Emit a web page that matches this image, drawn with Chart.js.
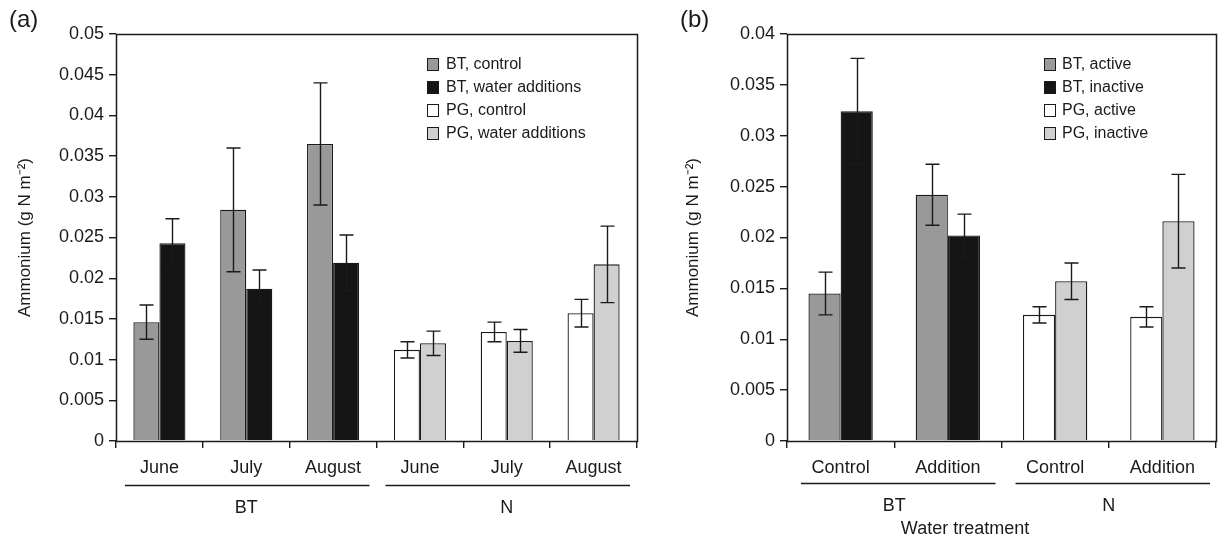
<!DOCTYPE html>
<html><head><meta charset="utf-8">
<script src="https://cdn.jsdelivr.net/npm/chart.js@4/dist/chart.umd.min.js"></script>
<style>
html,body{margin:0;padding:0;background:#fff;}
#wrap{position:relative;width:1219px;height:542px;overflow:hidden;}
#ca{position:absolute;left:0;top:0;}
#cb{position:absolute;left:640px;top:0;}
</style></head><body>
<div id="wrap">
<canvas id="ca" width="640" height="542"></canvas>
<canvas id="cb" width="579" height="542"></canvas>
</div>
<script>
// ---------- Panel (a) data ----------
const monthsA = ['June', 'July', 'August', 'June', 'July', 'August'];
const groupsA = ['BT', 'N'];
const btControl = [0.0146, 0.0284, 0.0365];
const btControlErr = [0.0021, 0.0076, 0.0075];
const btWater = [0.0243, 0.0187, 0.0219];
const btWaterErr = [0.0030, 0.0023, 0.0034];
const pgControl = [0.0112, 0.0134, 0.0157];
const pgControlErr = [0.0010, 0.0012, 0.0017];
const pgWater = [0.0120, 0.0123, 0.0217];
const pgWaterErr = [0.0015, 0.0014, 0.0047];
const legendA = ['BT, control', 'BT, water additions', 'PG, control', 'PG, water additions'];
const yTicksA = [0, 0.005, 0.01, 0.015, 0.02, 0.025, 0.03, 0.035, 0.04, 0.045, 0.05];

// ---------- Panel (b) data ----------
const treatB = ['Control', 'Addition', 'Control', 'Addition'];
const groupsB = ['BT', 'N'];
const btActive = [0.0145, 0.0242];
const btActiveErr = [0.0021, 0.0030];
const btInactive = [0.0324, 0.0202];
const btInactiveErr = [0.0052, 0.0021];
const pgActive = [0.0124, 0.0122];
const pgActiveErr = [0.0008, 0.0010];
const pgInactive = [0.0157, 0.0216];
const pgInactiveErr = [0.0018, 0.0046];
const legendB = ['BT, active', 'BT, inactive', 'PG, active', 'PG, inactive'];
const yTicksB = [0, 0.005, 0.01, 0.015, 0.02, 0.025, 0.03, 0.035, 0.04];

const C_GRAY = '#999999', C_BLACK = '#151515', C_WHITE = '#ffffff', C_LIGHT = '#d0d0d0';
const INK = '#1a1a1a';
const FONT = '"Liberation Sans", Arial, Helvetica, sans-serif';
const legendColors = [C_GRAY, C_BLACK, C_WHITE, C_LIGHT];

function rep(c, n) { return Array(n).fill(c); }

function makeChart(canvas, cfg) {
  const overlay = {
    id: 'overlay',
    afterDatasetsDraw(chart) {
      const ctx = chart.ctx, y = chart.scales.y;
      ctx.save();
      ctx.strokeStyle = INK; ctx.lineWidth = 1.4;
      chart.data.datasets.forEach((ds, di) => {
        const meta = chart.getDatasetMeta(di);
        meta.data.forEach((el, i) => {
          const v = ds.data[i], e = ds.err[i];
          const x = Math.round(el.x) + 0.5;
          const yt = y.getPixelForValue(v + e), yb = y.getPixelForValue(v - e);
          ctx.beginPath();
          ctx.moveTo(x, yt); ctx.lineTo(x, yb);
          ctx.moveTo(x - cfg.cap, yt); ctx.lineTo(x + cfg.cap, yt);
          ctx.moveTo(x - cfg.cap, yb); ctx.lineTo(x + cfg.cap, yb);
          ctx.stroke();
        });
      });
      ctx.restore();
    },
    afterDraw(chart) {
      const ctx = chart.ctx, a = chart.chartArea, xs = chart.scales.x;
      ctx.save();
      // plot frame
      ctx.strokeStyle = INK; ctx.lineWidth = 1.5;
      ctx.strokeRect(Math.round(a.left) + 0.5, Math.round(a.top) + 0.5, Math.round(a.right - a.left), Math.round(a.bottom - a.top));
      // group lines and labels
      const n = cfg.labels.length, half = n / 2;
      const cw = (a.right - a.left) / n;
      ctx.fillStyle = INK;
      ctx.font = '18px ' + FONT;
      ctx.textAlign = 'center'; ctx.textBaseline = 'middle';
      cfg.groups.forEach((g, gi) => {
        const x0 = xs.getPixelForValue(gi * half) - cw / 2 + cfg.insetL;
        const x1 = xs.getPixelForValue(gi * half + half - 1) + cw / 2 - cfg.insetR;
        ctx.lineWidth = 1.5;
        ctx.beginPath(); ctx.moveTo(x0, cfg.lineY + 0.5); ctx.lineTo(x1, cfg.lineY + 0.5); ctx.stroke();
        ctx.fillText(g, (xs.getPixelForValue(gi * half) + xs.getPixelForValue(gi * half + half - 1)) / 2, cfg.groupY);
      });
      if (cfg.xTitle) ctx.fillText(cfg.xTitle, cfg.xTitleX, cfg.xTitleY);
      // panel letter
      ctx.font = '24px ' + FONT;
      ctx.textAlign = 'left';
      ctx.fillText(cfg.letter, cfg.letterX, 20);
      // y title
      ctx.save();
      ctx.translate(cfg.yTitleX, (a.top + a.bottom) / 2);
      ctx.rotate(-Math.PI / 2);
      ctx.textAlign = 'center';
      ctx.font = '17px ' + FONT;
      ctx.fillText('Ammonium (g N m\u207B\u00B2)', 0, 0);
      ctx.restore();
      // legend
      ctx.font = '16px ' + FONT;
      ctx.textAlign = 'left';
      cfg.legend.forEach((t, i) => {
        const yy = cfg.legY + i * 23;
        ctx.fillStyle = legendColors[i];
        ctx.fillRect(cfg.legX, yy - 6, 11, 12);
        ctx.strokeStyle = INK; ctx.lineWidth = 1;
        ctx.strokeRect(cfg.legX + 0.5, yy - 5.5, 11, 12);
        ctx.fillStyle = INK;
        ctx.fillText(t, cfg.legX + cfg.legGap, yy + 1);
      });
      ctx.restore();
    }
  };

  return new Chart(canvas, {
    type: 'bar',
    data: {
      labels: cfg.labels,
      datasets: [
        { data: cfg.left, err: cfg.leftErr, backgroundColor: cfg.leftColors, borderColor: INK, borderWidth: 1.3, borderSkipped: 'bottom', barPercentage: 1, categoryPercentage: 0.6 },
        { data: cfg.right, err: cfg.rightErr, backgroundColor: cfg.rightColors, borderColor: INK, borderWidth: 1.3, borderSkipped: 'bottom', barPercentage: 1, categoryPercentage: 0.6 }
      ]
    },
    options: {
      responsive: false, animation: false,
      layout: { padding: { left: 0, top: 34, right: cfg.padRight, bottom: 0 } },
      plugins: { legend: { display: false }, tooltip: { enabled: false } },
      scales: {
        x: {
          grid: { offset: true, drawOnChartArea: false, drawTicks: true, tickLength: 7, color: INK, lineWidth: 1.4 },
          border: { display: false },
          ticks: { color: INK, font: { family: FONT, size: 18 }, padding: 9, maxRotation: 0, autoSkip: false },
          afterFit(s) { s.height = 542 - 441; }
        },
        y: {
          min: cfg.yTicks[0], max: cfg.yTicks[cfg.yTicks.length - 1],
          afterBuildTicks(s) { s.ticks = cfg.yTicks.map(v => ({ value: v })); },
          grid: { drawOnChartArea: false, drawTicks: true, tickLength: 7, color: INK, lineWidth: 1.4 },
          border: { display: false },
          ticks: { color: INK, font: { family: FONT, size: 18 }, padding: 5, callback: v => String(Math.round(v * 10000) / 10000) },
          afterFit(s) { s.width = cfg.yWidth; }
        }
      }
    },
    plugins: [overlay]
  });
}

makeChart(document.getElementById('ca'), {
  labels: monthsA, groups: groupsA, legend: legendA, yTicks: yTicksA,
  left: btControl.concat(pgControl), leftErr: btControlErr.concat(pgControlErr),
  right: btWater.concat(pgWater), rightErr: btWaterErr.concat(pgWaterErr),
  leftColors: rep(C_GRAY, 3).concat(rep(C_WHITE, 3)),
  rightColors: rep(C_BLACK, 3).concat(rep(C_LIGHT, 3)),
  yWidth: 116, padRight: 3, cap: 7, insetL: 9, insetR: 7, lineY: 485, groupY: 508,
  letter: '(a)', letterX: 9, yTitleX: 25, legX: 427, legY: 64, legGap: 19
});

makeChart(document.getElementById('cb'), {
  labels: treatB, groups: groupsB, legend: legendB, yTicks: yTicksB,
  left: btActive.concat(pgActive), leftErr: btActiveErr.concat(pgActiveErr),
  right: btInactive.concat(pgInactive), rightErr: btInactiveErr.concat(pgInactiveErr),
  leftColors: rep(C_GRAY, 2).concat(rep(C_WHITE, 2)),
  rightColors: rep(C_BLACK, 2).concat(rep(C_LIGHT, 2)),
  yWidth: 147, padRight: 3, cap: 7, insetL: 14, insetR: 6, lineY: 483, groupY: 506,
  xTitle: 'Water treatment', xTitleX: 325, xTitleY: 529,
  letter: '(b)', letterX: 40, yTitleX: 53, legX: 404, legY: 64, legGap: 18
});
</script>
</body></html>
